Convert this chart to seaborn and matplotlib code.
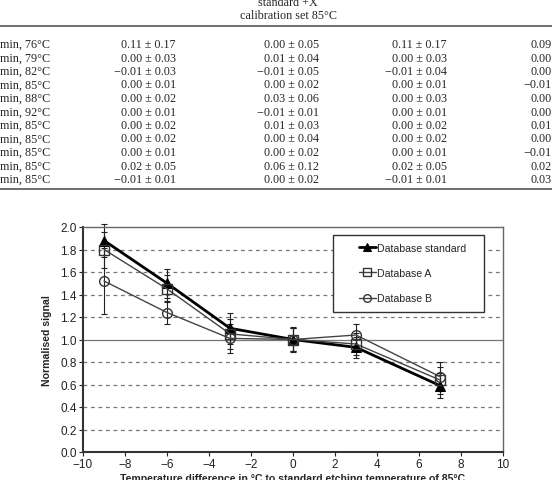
import seaborn as sns
import matplotlib.pyplot as plt
import pandas as pd
import numpy as np

# table fragment above the figure
row_labels = ["min, 76\u00b0C", "min, 79\u00b0C", "min, 82\u00b0C", "min, 85\u00b0C", "min, 88\u00b0C",
              "min, 92\u00b0C", "min, 85\u00b0C", "min, 85\u00b0C", "min, 85\u00b0C", "min, 85\u00b0C",
              "min, 85\u00b0C"]
col_b = ["0.11 \u00b1 0.17", "0.00 \u00b1 0.03", "\u22120.01 \u00b1 0.03", "0.00 \u00b1 0.01",
         "0.00 \u00b1 0.02", "0.00 \u00b1 0.01", "0.00 \u00b1 0.02", "0.00 \u00b1 0.02",
         "0.00 \u00b1 0.01", "0.02 \u00b1 0.05", "\u22120.01 \u00b1 0.01"]
col_c = ["0.00 \u00b1 0.05", "0.01 \u00b1 0.04", "\u22120.01 \u00b1 0.05", "0.00 \u00b1 0.02",
         "0.03 \u00b1 0.06", "\u22120.01 \u00b1 0.01", "0.01 \u00b1 0.03", "0.00 \u00b1 0.04",
         "0.00 \u00b1 0.02", "0.06 \u00b1 0.12", "0.00 \u00b1 0.02"]
col_d = ["0.11 \u00b1 0.17", "0.00 \u00b1 0.03", "\u22120.01 \u00b1 0.04", "0.00 \u00b1 0.01",
         "0.00 \u00b1 0.03", "0.00 \u00b1 0.01", "0.00 \u00b1 0.02", "0.00 \u00b1 0.02",
         "0.00 \u00b1 0.01", "0.02 \u00b1 0.05", "\u22120.01 \u00b1 0.01"]
col_e = ["0.09", "0.00", "0.00", "\u22120.01", "0.00", "0.00", "0.01", "0.00", "\u22120.01", "0.02", "0.03"]
header_1 = "standard +X"
header_2 = "calibration set 85\u00b0C"

# chart data
temp_diff = [-9, -6, -3, 0, 3, 7]
series_names = ["Database standard", "Database A", "Database B"]
sig_std = [1.88, 1.50, 1.10, 1.00, 0.93, 0.59]
sig_a = [1.80, 1.45, 1.05, 1.00, 0.96, 0.64]
sig_b = [1.52, 1.24, 1.01, 1.00, 1.04, 0.67]
err_std = [0.15, 0.13, 0.14, 0.11, 0.09, 0.11]
err_a = [0.16, 0.12, 0.13, 0.10, 0.10, 0.12]
err_b = [0.29, 0.10, 0.13, 0.10, 0.10, 0.13]

df = pd.DataFrame({
    "x": temp_diff * 3,
    "y": sig_std + sig_a + sig_b,
    "err": err_std + err_a + err_b,
    "series": np.repeat(series_names, len(temp_diff)),
})

sns.set_style("white")
plt.rcParams['font.family'] = ['Liberation Sans', 'DejaVu Sans']

W, H = 552, 481
fig = plt.figure(figsize=(W / 100, H / 100), dpi=100)


def fx(px):
    return px / W


def fy(py):
    return 1 - py / H


# ---- table ----
serif = ['Liberation Serif', 'DejaVu Serif']
tfs = 8.7
fig.text(fx(288), fy(3), header_1, ha='center', va='center', fontsize=tfs, family=serif)
fig.text(fx(288), fy(16), header_2, ha='center', va='center', fontsize=tfs, family=serif)
fig.add_artist(plt.Line2D([0, 1], [fy(27), fy(27)], color='#555555', lw=1.2))
fig.add_artist(plt.Line2D([0, 1], [fy(190), fy(190)], color='#555555', lw=1.2))
for i in range(len(row_labels)):
    yy = fy(45 + 13.5 * i)
    fig.text(fx(0), yy, row_labels[i], ha='left', va='center', fontsize=tfs, family=serif)
    fig.text(fx(176), yy, col_b[i], ha='right', va='center', fontsize=tfs, family=serif)
    fig.text(fx(319), yy, col_c[i], ha='right', va='center', fontsize=tfs, family=serif)
    fig.text(fx(447), yy, col_d[i], ha='right', va='center', fontsize=tfs, family=serif)
    fig.text(fx(552), yy, col_e[i], ha='right', va='center', fontsize=tfs, family=serif)

# ---- chart ----
ax = fig.add_axes([fx(83), fy(453), fx(503) - fx(83), fy(228) - fy(453)])

for yv in [0.2, 0.4, 0.6, 0.8, 1.2, 1.4, 1.6, 1.8]:
    ax.axhline(yv, color='#777777', lw=0.9, ls=(0, (3, 3)), zorder=0)
ax.axhline(1.0, color='#777777', lw=0.9, zorder=0)

for name in series_names:
    d = df[df.series == name]
    ax.errorbar(d.x, d.y, yerr=d.err, fmt='none', ecolor='#222222', elinewidth=0.8,
                capsize=2.5, capthick=0.8, zorder=2, clip_on=False)

sns.lineplot(data=df, x="x", y="y", hue="series", style="series", ax=ax,
             palette={"Database standard": "black", "Database A": "#444444", "Database B": "#444444"},
             markers={"Database standard": "^", "Database A": "s", "Database B": "o"},
             dashes=False, size="series",
             sizes={"Database standard": 2.0, "Database A": 1.0, "Database B": 1.0},
             markersize=7, zorder=3, legend=True)

for line in ax.lines:
    if line.get_marker() in ("s", "o"):
        line.set_markerfacecolor("none")
        line.set_markeredgecolor("#333333")
        line.set_markeredgewidth(1.0)
    elif line.get_marker() == "^":
        line.set_markerfacecolor("black")
        line.set_markeredgecolor("black")

ax.set_xlim(-10, 10)
ax.set_ylim(0, 2.0)
ax.set_xticks(range(-10, 11, 2))
ax.set_yticks(np.arange(0, 2.01, 0.2))
ax.set_xticklabels(["\u221210", "\u22128", "\u22126", "\u22124", "\u22122", "0", "2", "4", "6", "8", "10"])
ax.set_yticklabels([f"{v:.1f}" for v in np.arange(0, 2.01, 0.2)])
ax.tick_params(axis='both', labelsize=8.5, length=3, width=0.8, direction='out', pad=1.5,
               bottom=True, left=True, colors='#222222')

for s in ["left", "bottom"]:
    ax.spines[s].set_color('#333333')
    ax.spines[s].set_linewidth(1.5)
for s in ["top", "right"]:
    ax.spines[s].set_color('#666666')
    ax.spines[s].set_linewidth(1.0)

ax.set_xlabel("Temperature difference in \u00b0C to standard etching temperature of 85\u00b0C",
              fontsize=7.6, fontweight='bold', labelpad=2)
ax.set_ylabel("Normalised signal", fontsize=7.6, fontweight='bold', labelpad=6)

# legend: frame drawn as a rectangle, entries placed inside it
ax.add_patch(plt.Rectangle((0.595, 0.622), 0.36, 0.342, transform=ax.transAxes,
                           facecolor='white', edgecolor='#333333', lw=1.0, zorder=5))
handles, labels = ax.get_legend_handles_labels()
leg = ax.legend(handles, labels, loc='upper left', bbox_to_anchor=(0.657, 0.93),
                fontsize=7.6, frameon=False, handlelength=1.6, handletextpad=0.15,
                labelspacing=1.45, borderpad=0, borderaxespad=0)
leg.set_zorder(6)
for h in leg.legend_handles:
    if h.get_marker() in ("s", "o"):
        h.set_markerfacecolor("none")
        h.set_markeredgecolor("#333333")
        h.set_markersize(5.5)
        h.set_linewidth(1.0)
    else:
        h.set_markersize(5.5)

fig.savefig("out.png", dpi=100)
